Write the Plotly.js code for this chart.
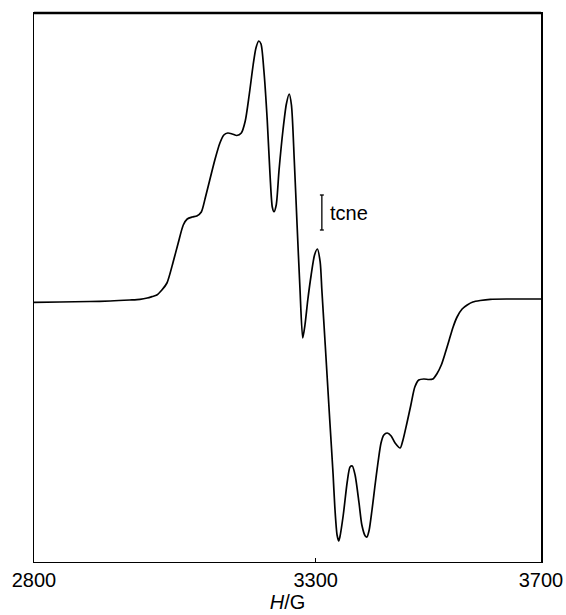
<!DOCTYPE html>
<html>
<head>
<meta charset="utf-8">
<script src="https://cdn.plot.ly/plotly-3.0.1.min.js"></script>
<style>html,body{margin:0;padding:0;background:#fff;}#chart{width:566px;height:615px;}</style>
</head>
<body>
<div id="chart"></div>
<script>
// Magnetic field H (G)
const fieldG = [2800,2846,2899,2935,2970,2988,3001,3010,3018,3027,3036,3047,3056,3065,3072,3081,3089,3097,3104,3112,3121,3130,3137,3144,3152,3160,3168,3175,3182,3189,3194,3199,3203,3208,3214,3219,3223,3226,3230,3235,3242,3248,3253,3257,3262,3267,3272,3277,3281,3286,3292,3298,3303,3308,3311,3317,3325,3331,3334,3338,3341,3343,3349,3356,3361,3365,3370,3377,3382,3388,3391,3395,3400,3405,3411,3416,3421,3427,3434,3441,3450,3455,3462,3469,3476,3483,3492,3501,3508,3515,3523,3530,3537,3544,3551,3560,3569,3579,3592,3610,3645,3700];
// EPR signal (arbitrary units, derivative)
const signal = [-2.3,-2,-1.5,-1,0,0.7,2,3.5,5,10,17,38,57,75,81,83,84,88,102,120,140,157,165,167,166,164.5,167,179,205,235,252,259,256,230,180,125,93,88.3,95,130,170,196,206,195,140,75,13,-38,-25,0,25,45,51,38,10,-45,-120,-175,-207,-235,-241,-237,-215,-182,-167,-166,-175,-203,-225,-236,-237,-230,-210,-187,-161,-143,-135,-133,-136,-143,-148,-140,-123,-105,-87,-80,-79,-79.5,-79,-74,-65,-53,-40,-27,-17,-9,-5,-2,-0.5,0.7,1,1];
const xTicks = [2800, 3300, 3700];
const xTickLabels = ['2800', '3300', '3700'];
const scaleLabel = 'tcne';
const scaleBar = {x: 3311, y0: 70, y1: 105, cap: 3.5};

const FONT = 'Liberation Sans, Arial, Helvetica, sans-serif';

const trace = {
  x: fieldG, y: signal, type: 'scatter', mode: 'lines',
  line: {color: '#000', width: 1.7, shape: 'spline', smoothing: 0.7},
  hoverinfo: 'skip'
};

const layout = {
  width: 566, height: 615,
  margin: {l: 34, r: 25, t: 13, b: 53},
  paper_bgcolor: '#fff', plot_bgcolor: '#fff',
  showlegend: false,
  font: {family: FONT, color: '#000', size: 20},
  xaxis: {
    range: [2800, 3700], tickvals: xTicks, ticktext: xTickLabels,
    ticks: 'inside', ticklen: 4, tickcolor: '#000', tickwidth: 1,
    showline: true, linecolor: '#000', linewidth: 1.2, mirror: true,
    showgrid: false, zeroline: false,
    tickfont: {family: FONT, size: 20, color: '#000'},
    title: {text: '<i>H</i>/G', font: {family: FONT, size: 20, color: '#000'}, standoff: 2}
  },
  yaxis: {
    range: [-262, 287], showticklabels: false, ticks: '',
    showline: true, linecolor: '#000', linewidth: 1.5, mirror: true,
    showgrid: false, zeroline: false
  },
  shapes: [
    {type: 'line', xref: 'paper', yref: 'paper', x0: 0, x1: 1, y0: 1, y1: 1, line: {color: '#000', width: 2.5}},
    {type: 'line', xref: 'x', yref: 'y', x0: scaleBar.x, x1: scaleBar.x, y0: scaleBar.y0, y1: scaleBar.y1, line: {color: '#000', width: 1.3}},
    {type: 'line', xref: 'x', yref: 'y', x0: scaleBar.x - scaleBar.cap, x1: scaleBar.x + scaleBar.cap, y0: scaleBar.y0, y1: scaleBar.y0, line: {color: '#000', width: 1.3}},
    {type: 'line', xref: 'x', yref: 'y', x0: scaleBar.x - scaleBar.cap, x1: scaleBar.x + scaleBar.cap, y0: scaleBar.y1, y1: scaleBar.y1, line: {color: '#000', width: 1.3}}
  ],
  annotations: [
    {x: scaleBar.x + 10, y: (scaleBar.y0 + scaleBar.y1) / 2, xref: 'x', yref: 'y', text: scaleLabel,
     showarrow: false, xanchor: 'left', yanchor: 'middle', font: {family: FONT, size: 20, color: '#000'}}
  ]
};

Plotly.newPlot('chart', [trace], layout, {staticPlot: true, displayModeBar: false});
</script>
</body>
</html>
